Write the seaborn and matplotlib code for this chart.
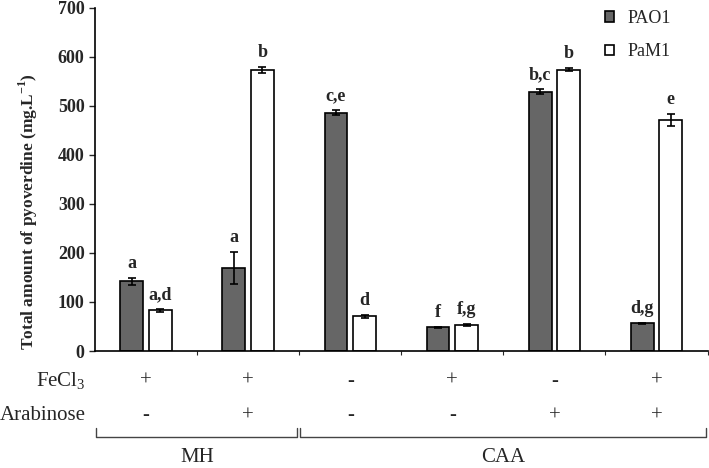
import numpy as np
import pandas as pd
import matplotlib
matplotlib.use("Agg")
import matplotlib.pyplot as plt
import matplotlib.transforms as mtransforms
import seaborn as sns

# data
conditions = ["MH1", "MH2", "CAA1", "CAA2", "CAA3", "CAA4"]
pao1_vals = [142, 170, 486, 48, 529, 57]
pao1_err = [7, 33, 5, 1, 5, 1]
pam1_vals = [83, 573, 71, 54, 574, 471]
pam1_err = [3, 6, 3, 2, 3, 12]
pao1_letters = ["a", "a", "c,e", "f", "b,c", "d,g"]
pam1_letters = ["a,d", "b", "d", "f,g", "b", "e"]
fecl3_row = ["+", "+", "-", "+", "-", "+"]
arabinose_row = ["-", "+", "-", "-", "+", "+"]
media = ["MH", "CAA"]
media_span = [(-0.5, 1.5), (1.5, 5.5)]

df = pd.DataFrame({
    "cond": conditions * 2,
    "strain": ["PAO1"] * 6 + ["PaM1"] * 6,
    "value": pao1_vals + pam1_vals,
    "err": pao1_err + pam1_err,
    "letter": pao1_letters + pam1_letters,
})

sns.set_style("white")
plt.rcParams["font.family"] = ["Liberation Serif", "DejaVu Serif"]
plt.rcParams["mathtext.fontset"] = "custom"
plt.rcParams["mathtext.rm"] = "Liberation Serif"
plt.rcParams["mathtext.bf"] = "Liberation Serif:bold"

fig = plt.figure(figsize=(7.09, 4.68), dpi=100)
ax = fig.add_axes([0.134, 0.25, 0.864, 0.733])

sns.barplot(data=df, x="cond", y="value", hue="strain", order=conditions,
            hue_order=["PAO1", "PaM1"], palette={"PAO1": "#666666", "PaM1": "white"},
            width=0.56, gap=0.2, edgecolor="black", linewidth=1.2, errorbar=None,
            ax=ax, legend=True)

# error bars and letters on bar centres
for cont, strain in zip(ax.containers, ["PAO1", "PaM1"]):
    sub = df[df.strain == strain]
    xs = [p.get_x() + p.get_width() / 2 for p in cont.patches]
    ax.errorbar(xs, sub["value"], yerr=sub["err"], fmt="none", ecolor="black",
                elinewidth=1.2, capsize=3, capthick=1.2)
    for x, v, e, l in zip(xs, sub["value"], sub["err"], sub["letter"]):
        ax.text(x, v + e + 12, l, ha="center", va="bottom", fontsize=13, fontweight="bold")

ax.set_ylim(0, 700)
ax.set_xlim(-0.5, 5.5)
ax.set_yticks(range(0, 701, 100))
ax.tick_params(axis="y", labelsize=13, direction="out", length=4, left=True, width=1)
for t in ax.get_yticklabels():
    t.set_fontweight("bold")
ax.set_xticks(np.arange(0.5, 5.6, 1))
ax.set_xticklabels([])
ax.tick_params(axis="x", direction="out", length=3, bottom=True, width=0.8)
ax.set_xlabel("")
ax.set_ylabel("Total amount of pyoverdine (mg.L$^{\\mathbf{-1}}$)", fontsize=12.5, fontweight="bold")
ax.yaxis.set_label_coords(-0.09, 0.408)
sns.despine(ax=ax)
ax.spines["left"].set_color("black")
ax.spines["bottom"].set_color("black")
ax.spines["left"].set_linewidth(1.2)
ax.spines["bottom"].set_linewidth(1.2)

leg = ax.legend(loc="upper left", frameon=False, fontsize=13, handlelength=0.5,
                handleheight=0.5, handletextpad=0.8, labelspacing=0.9,
                bbox_to_anchor=(0.82, 1.015), borderaxespad=0)

# condition rows under the axis
trans = mtransforms.blended_transform_factory(ax.transData, fig.transFigure)
for i in range(len(conditions)):
    ax.text(i, 1 - 381 / 468, fecl3_row[i], transform=trans, ha="center", va="center", fontsize=15)
    ax.text(i, 1 - 416 / 468, arabinose_row[i], transform=trans, ha="center", va="center", fontsize=15)
fig.text(86 / 709, 1 - 381 / 468, "FeCl$_3$", ha="right", va="center", fontsize=15)
fig.text(86 / 709, 1 - 416 / 468, "Arabinose", ha="right", va="center", fontsize=15)

# brackets for media
yb, yt = 1 - 437 / 468, 1 - 428 / 468
for name, (a, b) in zip(media, media_span):
    a2, b2 = a + 0.005, b - 0.02
    ax.plot([a2, a2, b2, b2], [yt, yb, yb, yt], transform=trans, color="#444444",
            lw=1.0, clip_on=False)
    ax.text((a + b) / 2, 1 - 458 / 468, name, transform=trans, ha="center",
            va="center", fontsize=15)

fig.savefig("out.png", dpi=100, facecolor="white")
